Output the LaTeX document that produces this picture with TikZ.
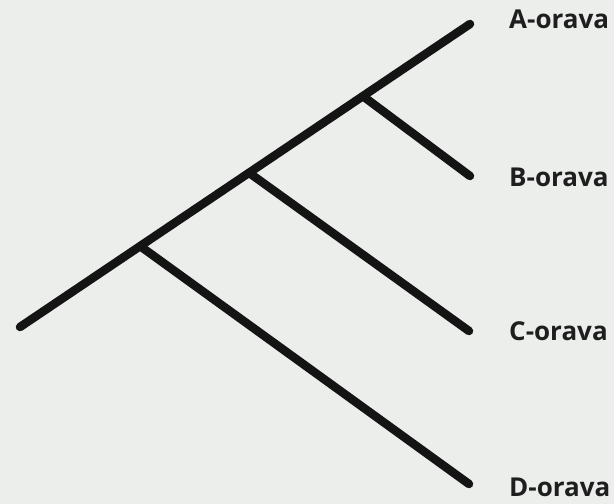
\documentclass[tikz,border=0pt]{standalone}
\usepackage{fontspec}
\setmainfont{Open Sans}
\usetikzlibrary{calc}
\definecolor{bgpaper}{HTML}{ECEEEC}
\definecolor{inkblack}{HTML}{141414}
\definecolor{labelgray}{HTML}{1E1E1E}

\begin{document}
\begin{tikzpicture}[x=1pt, y=-1pt,
    branch/.style={draw=inkblack, line width=8.5pt, line cap=round},
    leaf/.style={anchor=base west, inner sep=0pt, font=\fontsize{26}{30}\selectfont\bfseries, text=labelgray}]

  % background and page size
  \fill[bgpaper] (0,0) rectangle (614,504);
  \useasboundingbox (0,0) rectangle (614,504);

  % tips of the tree
  \coordinate (root) at (20,327);
  \coordinate (tipA) at (470,24);
  \coordinate (tipB) at (470,176);
  \coordinate (tipC) at (469,331);
  \coordinate (tipD) at (469,484);

  % branching points on the main line
  \coordinate (forkB) at ($(root)!0.762!(tipA)$);
  \coordinate (forkC) at ($(root)!0.509!(tipA)$);
  \coordinate (forkD) at ($(root)!0.267!(tipA)$);

  % lines
  \draw[branch] (root) -- (tipA);
  \draw[branch] (forkB) -- (tipB);
  \draw[branch] (forkC) -- (tipC);
  \draw[branch] (forkD) -- (tipD);

  % labels
  \node[leaf] (labA) at (509,28) {A-orava};
  \node[leaf] (labB) at (509,186) {B-orava};
  \node[leaf] (labC) at (509,340) {C-orava};
  \node[leaf] (labD) at (509,496) {D-orava};
\end{tikzpicture}
\end{document}
